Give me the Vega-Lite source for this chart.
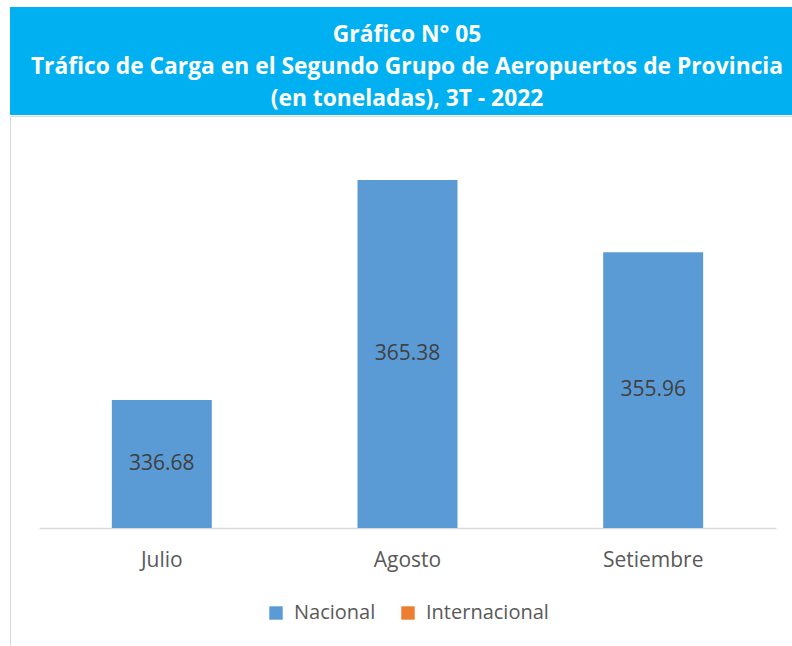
{
  "$schema": "https://vega.github.io/schema/vega-lite/v6.json",
  "padding": {"left": 9, "top": 7, "right": 0, "bottom": 0},
  "background": "white",
  "spacing": 0,
  "config": {"font": "Open Sans", "view": {"stroke": null}},
  "vconcat": [
    {
      "width": 794,
      "height": 108,
      "view": {"fill": "#00B0F0", "stroke": null},
      "data": {"values": [{"titulo": "Gráfico N° 05"}]},
      "mark": {
        "type": "text",
        "text": ["Gráfico N° 05", "Tráfico de Carga en el Segundo Grupo de Aeropuertos de Provincia", "(en toneladas), 3T - 2022"],
        "fontSize": 22.8,
        "fontWeight": "bold",
        "color": "white",
        "lineHeight": 32,
        "baseline": "middle",
        "align": "center",
        "dy": -26
      },
      "encoding": {}
    },
    {
      "width": 794,
      "height": 535,
      "view": {"stroke": "#D9D9D9", "fill": "white"},
      "data": {
        "values": [
          {"mes": "Julio", "serie": "Nacional", "toneladas": 336.68},
          {"mes": "Agosto", "serie": "Nacional", "toneladas": 365.38},
          {"mes": "Setiembre", "serie": "Nacional", "toneladas": 355.96}
        ]
      },
      "encoding": {
        "x": {
          "field": "mes",
          "type": "nominal",
          "sort": null,
          "scale": {"range": [29, 766], "paddingInner": 0.593, "paddingOuter": 0.2965},
          "axis": {
            "title": null,
            "orient": "bottom",
            "offset": -123,
            "domainColor": "#D9D9D9",
            "domainWidth": 1.5,
            "ticks": false,
            "labelAngle": 0,
            "labelFontSize": 21,
            "labelColor": "#595959",
            "labelPadding": 21
          }
        }
      },
      "layer": [
        {
          "mark": {"type": "bar"},
          "encoding": {
            "y": {
              "field": "toneladas",
              "type": "quantitative",
              "scale": {"domain": [320, 370], "range": [412, 28.5], "zero": false, "nice": false},
              "axis": null
            },
            "y2": {"datum": 320},
            "color": {
              "field": "serie",
              "type": "nominal",
              "scale": {"domain": ["Nacional", "Internacional"], "range": ["#5B9BD5", "#ED7D31"]},
              "legend": {
                "orient": "none",
                "legendX": 256,
                "legendY": 596,
                "direction": "horizontal",
                "title": null,
                "symbolType": "square",
                "symbolSize": 180,
                "symbolStrokeWidth": 0,
                "labelFontSize": 20,
                "labelColor": "#595959",
                "columnPadding": 22,
                "labelOffset": 8
              }
            }
          }
        },
        {
          "mark": {"type": "text", "fontSize": 21, "color": "#404040", "baseline": "middle", "align": "center"},
          "encoding": {
            "y": {
              "field": "toneladas",
              "type": "quantitative",
              "scale": {"domain": [320, 370], "range": [412, 220.25], "zero": false, "nice": false},
              "axis": null
            },
            "text": {"field": "toneladas", "type": "quantitative", "format": ".2f"}
          }
        }
      ],
      "resolve": {"scale": {"y": "independent"}}
    }
  ]
}
